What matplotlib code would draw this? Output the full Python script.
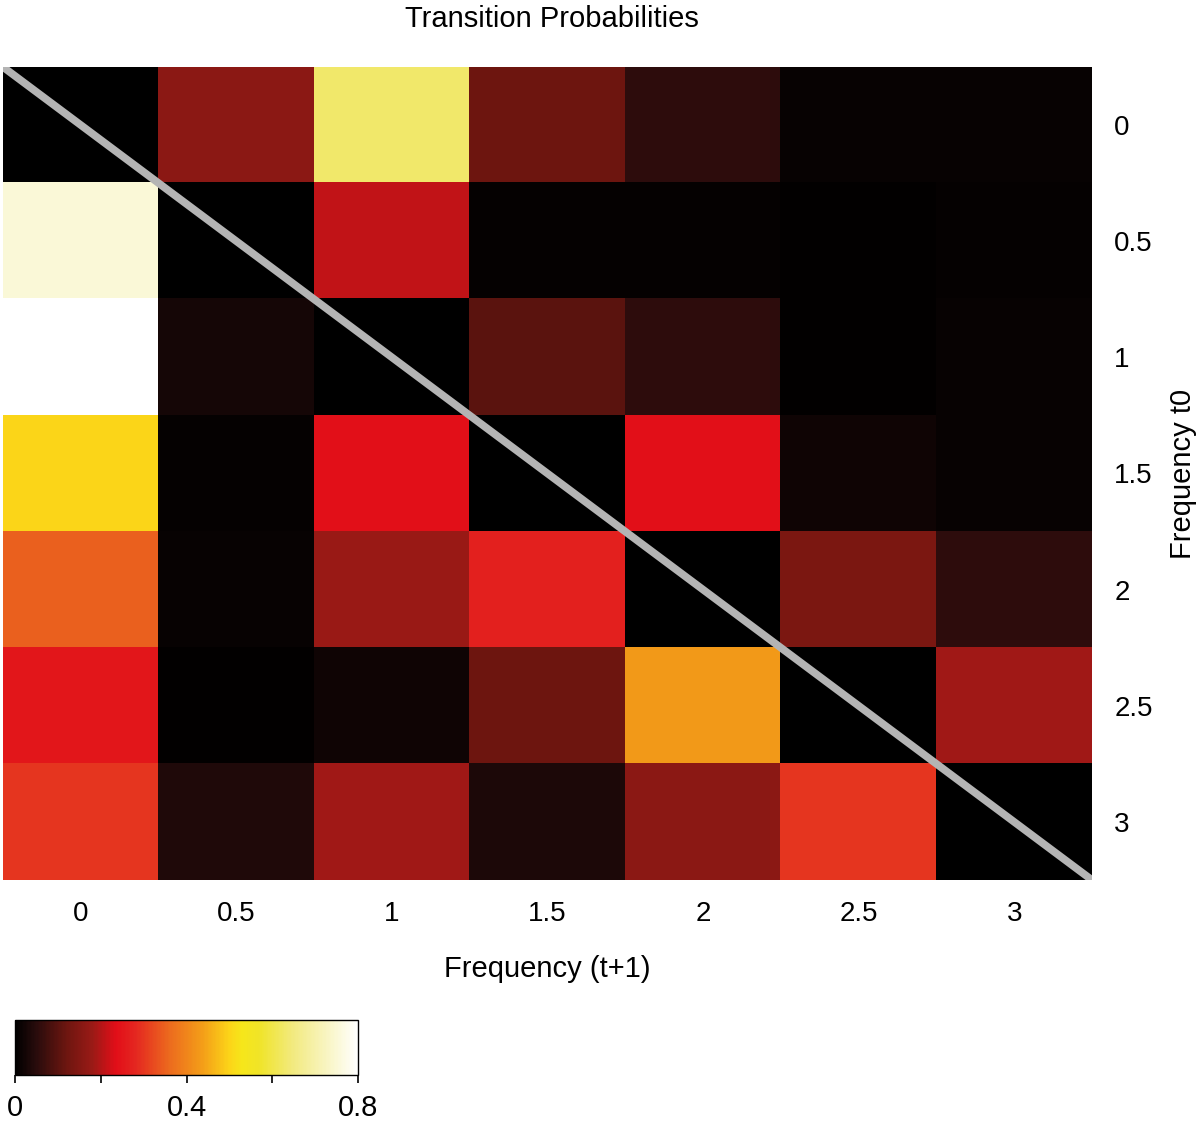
import numpy as np
import matplotlib
matplotlib.use("Agg")
import matplotlib.pyplot as plt
from matplotlib.colors import LinearSegmentedColormap

plt.rcParams['font.family'] = ['Liberation Sans', 'DejaVu Sans']

# tick labels (frequency bins)
freq_labels = ['0', '0.5', '1', '1.5', '2', '2.5', '3']

# transition probabilities, rows = frequency t0, cols = frequency t+1
probs = np.array([
    [0.000, 0.160, 0.630, 0.120, 0.055, 0.010, 0.010],
    [0.750, 0.000, 0.210, 0.008, 0.008, 0.005, 0.008],
    [0.800, 0.025, 0.000, 0.100, 0.055, 0.004, 0.010],
    [0.500, 0.008, 0.240, 0.000, 0.240, 0.020, 0.010],
    [0.350, 0.010, 0.180, 0.270, 0.000, 0.140, 0.055],
    [0.250, 0.004, 0.020, 0.120, 0.430, 0.000, 0.185],
    [0.300, 0.040, 0.185, 0.035, 0.160, 0.300, 0.000],
])

# colour map black -> red -> orange -> yellow -> white
cnodes = [0.0, 0.05, 0.12, 0.18, 0.235, 0.28, 0.36, 0.44, 0.50, 0.53, 0.57, 0.65, 0.8]
ccols = ['#000000', '#2a0c0c', '#6e1610', '#9a1a16', '#e20e18', '#e42620',
         '#ec6a1e', '#f4a018', '#fcd418', '#f6e61a', '#f0e428', '#f2ea80', '#ffffff']
cmap = LinearSegmentedColormap.from_list('trans', list(zip([c / 0.8 for c in cnodes], ccols)))

fig = plt.figure(figsize=(12.03, 11.22), dpi=100)
ax = fig.add_axes([0.0025, 0.2157, 0.9052, 0.7246])
im = ax.imshow(probs, cmap=cmap, vmin=0, vmax=0.8, aspect='auto', interpolation='nearest')

n = len(freq_labels)
ax.plot([-0.5, n - 0.5], [-0.5, n - 0.5], color='#b4b4b4', lw=5.5, solid_capstyle='butt')
ax.set_xlim(-0.5, n - 0.5)
ax.set_ylim(n - 0.5, -0.5)

ax.set_xticks(range(n))
ax.set_xticklabels(freq_labels)
ax.set_yticks(range(n))
ax.set_yticklabels(freq_labels)
ax.yaxis.tick_right()
ax.yaxis.set_label_position('right')
ax.tick_params(length=0, labelsize=20)
ax.tick_params(axis='x', pad=15)
ax.tick_params(axis='y', pad=16)
for s in ax.spines.values():
    s.set_visible(False)

ax.set_xlabel('Frequency (t+1)', fontsize=21, labelpad=20)
ax.set_ylabel('Frequency t0', fontsize=21, labelpad=12)
fig.text(0.459, 0.983, 'Transition Probabilities', fontsize=21, ha='center', va='center')

cax = fig.add_axes([0.0125, 0.0419, 0.2851, 0.049])
cb = fig.colorbar(im, cax=cax, orientation='horizontal')
cb.set_ticks([0, 0.2, 0.4, 0.6, 0.8])
cb.set_ticklabels(['0', '', '0.4', '', '0.8'])
cb.outline.set_linewidth(1)
cax.tick_params(length=6, width=1.2, labelsize=21, pad=8)

fig.savefig('out.png', dpi=100)
